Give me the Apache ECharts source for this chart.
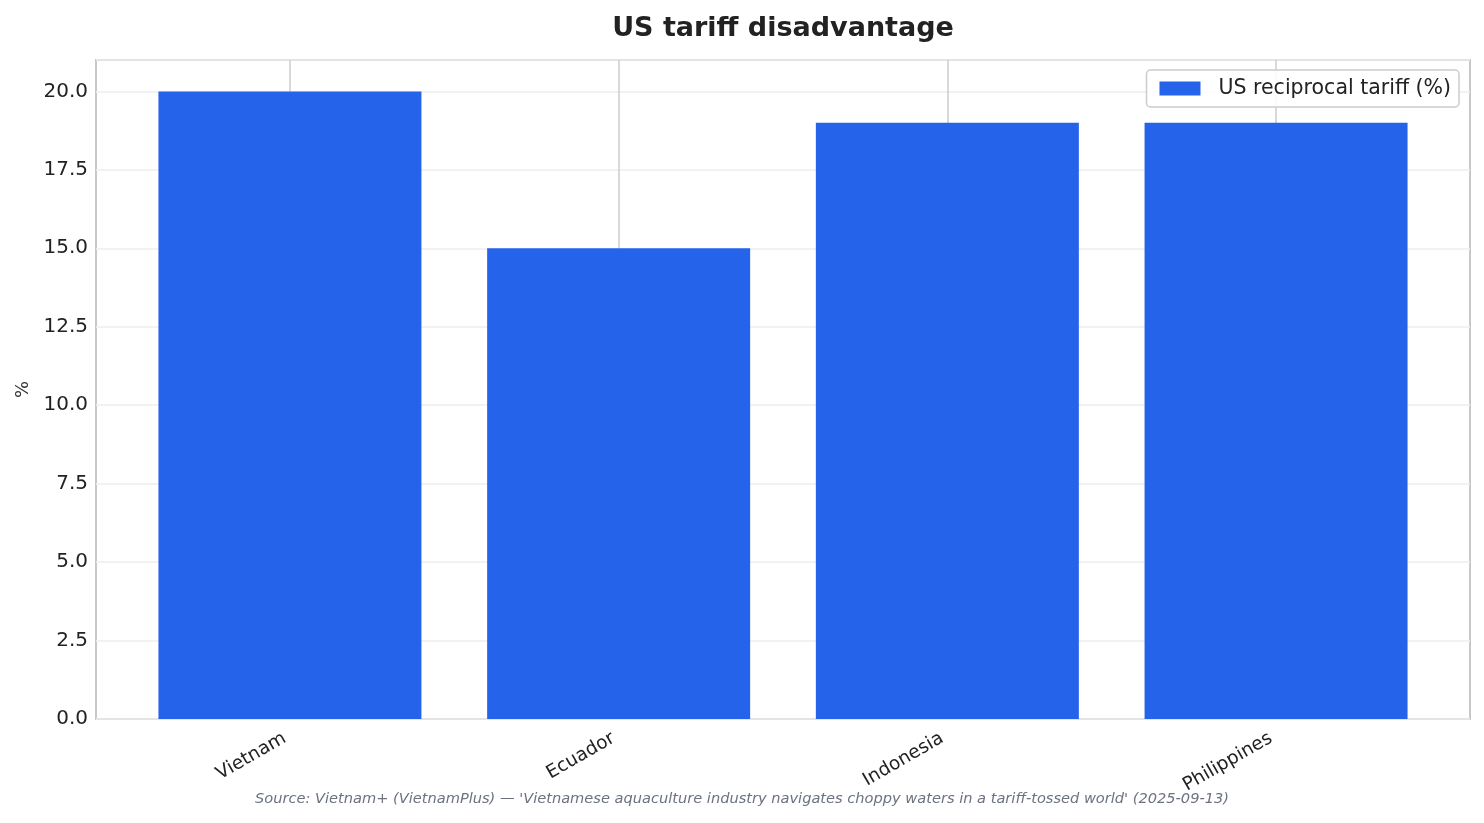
<!DOCTYPE html>
<html>
<head>
<meta charset="utf-8">
<script src="https://cdn.jsdelivr.net/npm/echarts@6/dist/echarts.min.js"></script>
<style>
  html, body { margin: 0; padding: 0; background: #fff; }
  #chart { width: 1484px; height: 823px; }
</style>
</head>
<body>
<div id="chart"></div>
<script>
  const countries = ["Vietnam", "Ecuador", "Indonesia", "Philippines"];
  const tariffs = [20, 15, 19, 19];
  const seriesName = "US reciprocal tariff (%)";
  const positions = countries.map((c, i) => i);

  const chart = echarts.init(document.getElementById("chart"));
  const font = "DejaVu Sans";

  chart.setOption({
    animation: false,
    backgroundColor: "#fff",
    title: {
      text: "US tariff disadvantage",
      left: 778, top: 10, textAlign: "center",
      textStyle: { fontFamily: font, fontSize: 27, fontWeight: "bold", color: "#222" },
    },
    legend: {
      right: 25, top: 70,
      padding: [8, 8, 8, 13],
      itemWidth: 41, itemHeight: 14, itemGap: 10,
      borderColor: "#cccccc", borderWidth: 1.5, borderRadius: 4,
      backgroundColor: "rgba(255,255,255,0.85)",
      textStyle: { fontFamily: font, fontSize: 20.5, color: "#222", padding: [0, 0, 0, 13] },
      data: [{ name: seriesName, icon: "rect" }],
    },
    graphic: [{
      type: "text", left: "center", top: 792,
      style: {
        text: "Source: Vietnam+ (VietnamPlus) — 'Vietnamese aquaculture industry navigates choppy waters in a tariff-tossed world' (2025-09-13)",
        fontFamily: font, fontSize: 14.6, fontStyle: "italic", fill: "#6b7280",
      },
    }],
    grid: {
      left: 96, top: 60, width: 1374, height: 659,
      show: true, borderColor: "#c8c8c8", borderWidth: 2,
    },
    xAxis: {
      type: "value", min: -0.59, max: 3.59,
      axisLine: { show: false },
      axisTick: { show: false, customValues: positions },
      splitLine: { show: true, lineStyle: { color: "#cccccc", width: 1.5 } },
      axisLabel: {
        customValues: positions,
        formatter: v => countries[Math.round(v)] || "",
        rotate: 30, margin: 15, padding: [0, 6, 0, 0],
        fontFamily: font, fontSize: 18.5, color: "#222",
      },
    },
    yAxis: {
      type: "value", min: 0, max: 21, interval: 2.5,
      name: "%", nameLocation: "middle", nameGap: 60, nameRotate: 90,
      nameTextStyle: { fontFamily: font, fontSize: 18, color: "#333" },
      axisLine: { show: false },
      axisTick: { show: false },
      splitLine: { lineStyle: { color: "#eeeeee", width: 1.5 } },
      axisLabel: {
        formatter: v => (Math.abs(v / 2.5 - Math.round(v / 2.5)) < 1e-6 ? v.toFixed(1) : ""),
        margin: 8, fontFamily: font, fontSize: 20, color: "#222",
      },
    },
    series: [{
      name: seriesName, type: "bar",
      data: positions.map(i => [i, tariffs[i]]),
      barWidth: 263,
      itemStyle: { color: "#2563eb" },
    }],
  });
</script>
</body>
</html>
